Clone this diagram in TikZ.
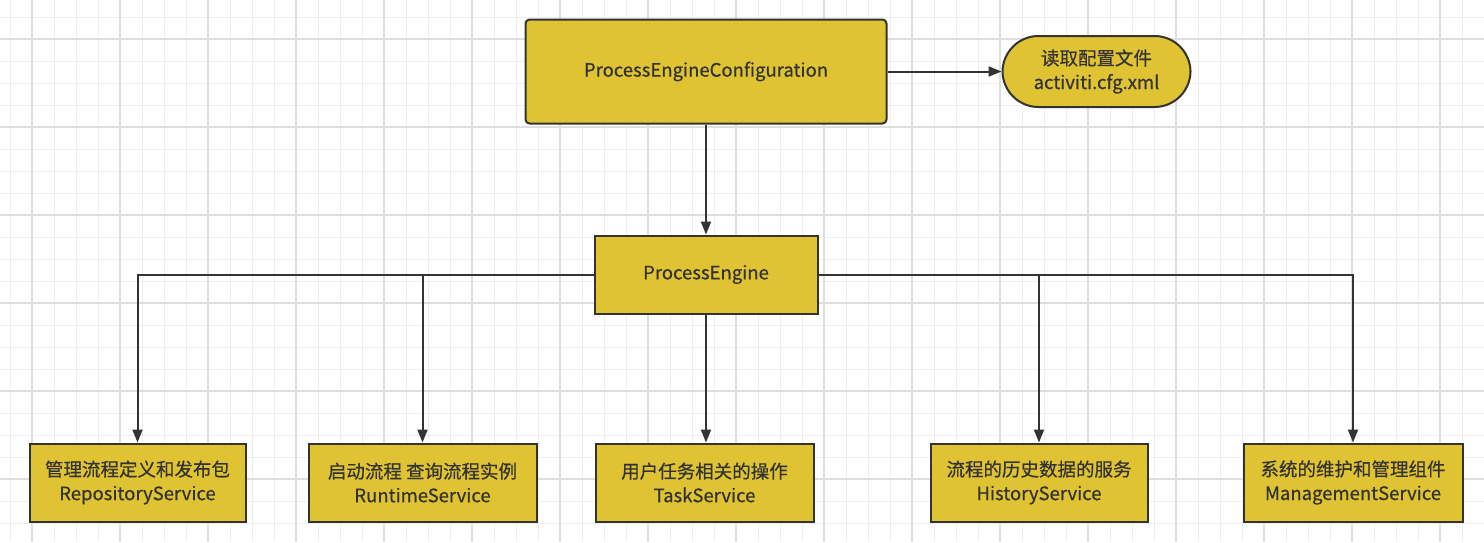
\documentclass[tikz,border=0pt]{standalone}
\usepackage{fontspec}
\setmainfont{Noto Sans CJK SC}[FakeBold=0.5]
\usepackage{xcolor}
\usepackage{tikz}
\usetikzlibrary{arrows.meta,positioning}
\definecolor{boxfill}{RGB}{224,195,50}
\definecolor{boxline}{RGB}{51,51,51}
\definecolor{gridminor}{RGB}{238,238,238}
\definecolor{gridmajor}{RGB}{222,222,222}
\tikzset{
  enginebox/.style={draw=boxline,fill=boxfill,line width=2pt,align=center,
    text=boxline,inner sep=0pt,font=\fontsize{18.5}{24}\selectfont},
  cfgbox/.style={enginebox,rounded corners=4pt,minimum width=361pt,minimum height=104pt},
  filebox/.style={enginebox,rounded corners=36pt,minimum width=188pt,minimum height=71pt},
  servicebox/.style={enginebox,minimum height=78pt},
  flowarrow/.style={-{Triangle[length=13pt,width=10pt]},line width=2pt,draw=boxline},
  minorline/.style={draw=gridminor,line width=1pt},
  majorline/.style={draw=gridmajor,line width=1.2pt}
}

\begin{document}
\begin{tikzpicture}[x=1pt,y=-1pt]
  \useasboundingbox[fill=white] (0,0) rectangle (1484,542);
  % background grid
  \foreach \gx in {10,32,...,1484} \draw[minorline] (\gx,0) -- (\gx,542);
  \foreach \gy in {17,39,...,542} \draw[minorline] (0,\gy) -- (1484,\gy);
  \foreach \gx in {32,120,...,1484} \draw[majorline] (\gx,0) -- (\gx,542);
  \foreach \gy in {39,127,...,542} \draw[majorline] (0,\gy) -- (1484,\gy);

  \node[cfgbox] (cfg) at (706,71.5) {ProcessEngineConfiguration};
  \node[filebox,right=114pt of cfg] (file) {读取配置文件\\activiti.cfg.xml};
  \node[servicebox,below=110pt of cfg,minimum width=223pt] (pe) {ProcessEngine};

  \node[servicebox,minimum width=216pt] (rs) at (137.5,482.5) {管理流程定义和发布包\\RepositoryService};
  \node[servicebox,right=61pt of rs,minimum width=228pt] (rt) {启动流程 查询流程实例\\RuntimeService};
  \node[servicebox,right=57pt of rt,minimum width=218pt] (ts) {用户任务相关的操作\\TaskService};
  \node[servicebox,right=115pt of ts,minimum width=217pt] (hs) {流程的历史数据的服务\\HistoryService};
  \node[servicebox,right=94pt of hs,minimum width=219pt] (ms) {系统的维护和管理组件\\ManagementService};

  \draw[flowarrow] (cfg) -- (file);
  \draw[flowarrow] (cfg) -- (pe);
  \draw[flowarrow] (pe.west) -| (rs.north);
  \draw[flowarrow] (pe.west) -| (rt.north);
  \draw[flowarrow] (pe) -- (pe |- ts.north);
  \draw[flowarrow] (pe.east) -| (hs.north);
  \draw[flowarrow] (pe.east) -| (ms.north);
\end{tikzpicture}
\end{document}
